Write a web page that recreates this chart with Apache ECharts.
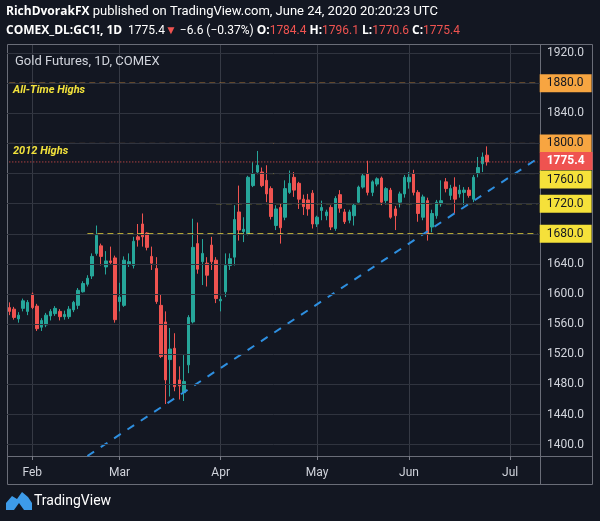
<!DOCTYPE html>
<html>
<head>
<meta charset="utf-8">
<title>Gold Futures, 1D, COMEX</title>
<script src="https://cdn.jsdelivr.net/npm/echarts@6/dist/echarts.min.js"></script>
<style>
  html, body { margin: 0; padding: 0; background: #131722; }
  #gold-chart { width: 600px; height: 521px; }
</style>
</head>
<body>
<div id="gold-chart"></div>
<script>
// trading days shown on the time axis (the last ones are empty space right of the last bar)
const dates = [
  '2020-01-27', '2020-01-28', '2020-01-29', '2020-01-30', '2020-01-31',
  '2020-02-03', '2020-02-04', '2020-02-05', '2020-02-06', '2020-02-07', '2020-02-10', '2020-02-11', '2020-02-12',
  '2020-02-13', '2020-02-14', '2020-02-18', '2020-02-19', '2020-02-20', '2020-02-21', '2020-02-24', '2020-02-25',
  '2020-02-26', '2020-02-27', '2020-02-28',
  '2020-03-02', '2020-03-03', '2020-03-04', '2020-03-05', '2020-03-06', '2020-03-09', '2020-03-10', '2020-03-11',
  '2020-03-12', '2020-03-13', '2020-03-16', '2020-03-17', '2020-03-18', '2020-03-19', '2020-03-20', '2020-03-23',
  '2020-03-24', '2020-03-25', '2020-03-26', '2020-03-27', '2020-03-30', '2020-03-31',
  '2020-04-01', '2020-04-02', '2020-04-03', '2020-04-06', '2020-04-07', '2020-04-08', '2020-04-09', '2020-04-13',
  '2020-04-14', '2020-04-15', '2020-04-16', '2020-04-17', '2020-04-20', '2020-04-21', '2020-04-22', '2020-04-23',
  '2020-04-24', '2020-04-27', '2020-04-28', '2020-04-29', '2020-04-30',
  '2020-05-01', '2020-05-04', '2020-05-05', '2020-05-06', '2020-05-07', '2020-05-08', '2020-05-11', '2020-05-12',
  '2020-05-13', '2020-05-14', '2020-05-15', '2020-05-18', '2020-05-19', '2020-05-20', '2020-05-21', '2020-05-22',
  '2020-05-26', '2020-05-27', '2020-05-28', '2020-05-29',
  '2020-06-01', '2020-06-02', '2020-06-03', '2020-06-04', '2020-06-05', '2020-06-08', '2020-06-09', '2020-06-10',
  '2020-06-11', '2020-06-12', '2020-06-15', '2020-06-16', '2020-06-17', '2020-06-18', '2020-06-19', '2020-06-22',
  '2020-06-23', '2020-06-24', '2020-06-25', '2020-06-26', '2020-06-29', '2020-06-30',
  '2020-07-01', '2020-07-02', '2020-07-06', '2020-07-07', '2020-07-08', '2020-07-09', '2020-07-10'
]
const opens = [
  1582, 1580, 1567, 1581, 1577, 1600, 1584, 1556, 1559, 1571, 1574, 1577, 1570, 1570, 1579, 1585, 1603, 1613, 1624, 1654,
  1664, 1636, 1644, 1648, 1590, 1585, 1640, 1638, 1676, 1693, 1681, 1650, 1634, 1585, 1563, 1513, 1528, 1486, 1469, 1506,
  1563, 1667, 1643, 1641, 1665, 1645, 1591, 1603, 1638, 1649, 1709, 1683, 1680, 1744, 1762, 1762, 1751, 1740, 1691, 1715,
  1702, 1735, 1755, 1747, 1726, 1725, 1734, 1693, 1711, 1704, 1715, 1687, 1732, 1709, 1698, 1704, 1722, 1742, 1760, 1735,
  1746, 1754, 1724, 1738, 1713, 1722, 1733, 1749, 1760, 1735, 1702, 1724, 1689, 1704, 1720, 1749, 1731, 1742, 1733, 1735,
  1738, 1726, 1760, 1773, 1784.4
]
const highs = [
  1589, 1583, 1576, 1594, 1592, 1602, 1587, 1568, 1575, 1580, 1584, 1580, 1578, 1584, 1591, 1608, 1617, 1625, 1654, 1691,
  1667, 1657, 1663, 1651, 1615, 1650, 1654, 1676, 1693, 1707, 1682, 1663, 1649, 1599, 1577, 1555, 1548, 1504, 1519, 1572,
  1700, 1695, 1673, 1649, 1676, 1649, 1597, 1654, 1654, 1718, 1744, 1702, 1757, 1775, 1790, 1768, 1771, 1743, 1718, 1720,
  1751, 1764, 1762, 1749, 1732, 1733, 1738, 1704, 1724, 1712, 1718, 1730, 1738, 1713, 1712, 1720, 1744, 1760, 1777, 1751,
  1755, 1756, 1742, 1741, 1717, 1736, 1758, 1762, 1765, 1738, 1732, 1728, 1712, 1725, 1751, 1754, 1745, 1755, 1745, 1742,
  1742, 1758, 1782, 1788, 1796.1
]
const lows = [
  1572, 1566, 1562, 1577, 1572, 1580, 1551, 1551, 1556, 1565, 1571, 1565, 1566, 1567, 1576, 1580, 1602, 1610, 1620, 1651,
  1638, 1626, 1640, 1562, 1577, 1583, 1636, 1634, 1663, 1663, 1658, 1632, 1587, 1515, 1454, 1464, 1471, 1460, 1458, 1495,
  1561, 1627, 1612, 1610, 1632, 1588, 1577, 1596, 1632, 1638, 1671, 1669, 1678, 1742, 1759, 1742, 1722, 1699, 1685, 1667,
  1698, 1733, 1729, 1713, 1705, 1704, 1687, 1689, 1698, 1698, 1685, 1684, 1708, 1693, 1694, 1691, 1720, 1740, 1731, 1730,
  1743, 1718, 1719, 1700, 1685, 1715, 1728, 1740, 1731, 1696, 1698, 1671, 1682, 1700, 1716, 1735, 1725, 1707, 1728, 1718,
  1728, 1722, 1755, 1762, 1770.6
]
const closes = [
  1577, 1569, 1572, 1591, 1589, 1582, 1554, 1565, 1572, 1577, 1581, 1570, 1573, 1580, 1589, 1605, 1614, 1621, 1650, 1678,
  1650, 1644, 1642, 1566, 1596, 1645, 1643, 1670, 1672, 1676, 1662, 1641, 1590, 1517, 1486, 1527, 1477, 1478, 1484, 1569,
  1662, 1633, 1654, 1625, 1643, 1594, 1593, 1638, 1647, 1699, 1685, 1686, 1755, 1760, 1771, 1744, 1733, 1703, 1713, 1688,
  1740, 1747, 1738, 1726, 1716, 1713, 1693, 1702, 1715, 1709, 1689, 1727, 1714, 1696, 1709, 1718, 1742, 1757, 1735, 1749,
  1753, 1722, 1740, 1702, 1704, 1733, 1755, 1755, 1735, 1707, 1729, 1680, 1707, 1722, 1724, 1740, 1740, 1726, 1738, 1738,
  1731, 1755, 1768, 1782, 1775.4
]
const priceTicks = [1400, 1440, 1480, 1520, 1560, 1600, 1640, 1680, 1720, 1760, 1800, 1840, 1880, 1920]
const resistanceLevels = [1880, 1800]
const resistanceNotes = ['All-Time Highs', '2012 Highs']
const supportLevels = [1760, 1720, 1680]
const supportStarts = ['2020-04-07', '2020-03-31', '2020-02-20']
const trendLine = [['2020-02-20', 1385], ['2020-07-10', 1780]]
const monthNames = ['Jan', 'Feb', 'Mar', 'Apr', 'May', 'Jun', 'Jul']

const font = 'Roboto'
const boldFont = 'Open Sans'
const firstDate = dates[0]
const lastDate = dates[dates.length - 1]
const boxed = resistanceLevels.concat(supportLevels)

function isMonthStart (i) {
  return i > 0 && dates[i].slice(5, 7) !== dates[i - 1].slice(5, 7)
}
function fmt (v) {
  return v.toFixed(1).replace('-', '\u2212')
}

const candles = closes.map((c, i) => [opens[i], c, lows[i], highs[i]])
const n = closes.length
const last = closes[n - 1]
const change = last - closes[n - 2]
const pct = change / closes[n - 2] * 100

// a horizontal level drawn as a two point line with its price box at the right end
function levelSeries (name, from, v, color, dash, boxBg, boxColor) {
  return {
    name: name,
    type: 'line',
    data: [[from, v], [lastDate, v]],
    symbol: 'none',
    silent: true,
    z: 3,
    lineStyle: { color: color, type: dash, width: 1 },
    endLabel: {
      show: true,
      formatter: fmt(v),
      distance: 2,
      backgroundColor: boxBg,
      color: boxColor,
      fontFamily: font,
      fontSize: 12,
      lineHeight: 12,
      padding: [3, 8, 3, 7]
    }
  }
}

const series = [
  {
    name: 'grid',
    type: 'line',
    data: [],
    z: 1,
    silent: true,
    markLine: {
      symbol: ['none', 'none'],
      silent: true,
      animation: false,
      lineStyle: { color: '#30343f', type: 'solid', width: 1 },
      label: {
        show: true,
        position: 'end',
        distance: 7,
        formatter: p => boxed.indexOf(p.value) < 0 ? fmt(p.value) : '',
        color: '#d1d4dc',
        fontFamily: font,
        fontSize: 12
      },
      data: priceTicks.map(v => ({ yAxis: v }))
    }
  },
  {
    name: 'GC1!',
    type: 'candlestick',
    data: candles,
    barWidth: 3,
    z: 2,
    itemStyle: {
      color: '#26a69a',
      color0: '#ef5350',
      borderColor: '#26a69a',
      borderColor0: '#ef5350',
      borderWidth: 1
    }
  }
]
resistanceLevels.forEach(v => {
  series.push(levelSeries('resistance ' + v, firstDate, v, '#f7a541', [6, 4], '#f7a541', '#131722'))
})
supportLevels.forEach((v, k) => {
  const s = levelSeries('support ' + v, supportStarts[k], v, '#f5e13a', [6, 4], '#f5e13a', '#131722')
  // the box right under the last price is pushed down so the two do not overlap
  if (k === 0) s.endLabel.offset = [0, 6]
  series.push(s)
})
const lastLine = levelSeries('last', firstDate, last, '#ef5350', [1, 2], '#ef5350', '#ffffff')
lastLine.endLabel.fontWeight = 'bold'
lastLine.endLabel.offset = [0, -1]
lastLine.z = 4
series.push(lastLine)
series.push({
  name: 'trend',
  type: 'line',
  data: trendLine,
  symbol: 'none',
  silent: true,
  z: 4,
  lineStyle: { color: '#2e8fe0', type: [8, 8], width: 2 }
})

const myChart = echarts.init(document.getElementById('gold-chart'))
const option = {
  backgroundColor: '#131722',
  animation: false,
  title: [
    {
      left: 6,
      top: 5,
      padding: 0,
      text: '{b|RichDvorakFX} published on TradingView.com, June 24, 2020 20:20:23 UTC',
      textStyle: {
        color: '#ffffff',
        fontFamily: font,
        fontSize: 13,
        fontWeight: 'normal',
        rich: { b: { color: '#ffffff', fontFamily: boldFont, fontSize: 12, fontWeight: 'bold' } }
      }
    },
    {
      left: 6,
      top: 25,
      padding: 0,
      text: '{b|COMEX_DL:GC1!, 1D}  ' + fmt(last) + '{r|\u25BC} ' + fmt(change) + ' (' + pct.toFixed(2).replace('-', '\u2212') + '%) ' +
        '{b|O:}{r|' + fmt(opens[n - 1]) + '} {b|H:}{r|' + fmt(highs[n - 1]) + '} {b|L:}{r|' + fmt(lows[n - 1]) +
        '} {b|C:}{r|' + fmt(last) + '}',
      textStyle: {
        color: '#ffffff',
        fontFamily: font,
        fontSize: 12,
        fontWeight: 'normal',
        rich: {
          b: { color: '#ffffff', fontFamily: boldFont, fontSize: 12, fontWeight: 'bold' },
          r: { color: '#ef5350', fontFamily: font, fontSize: 12 }
        }
      }
    },
    {
      left: 15,
      top: 55,
      padding: 0,
      text: 'Gold Futures, 1D, COMEX',
      textStyle: { color: '#d1d4dc', fontFamily: font, fontSize: 13, fontWeight: 'normal' }
    }
  ],
  grid: {
    left: 7,
    right: 60,
    top: 44,
    bottom: 65
  },
  xAxis: {
    type: 'category',
    data: dates,
    boundaryGap: true,
    axisLine: { show: false },
    axisTick: {
      show: true,
      interval: isMonthStart,
      alignWithLabel: true,
      length: 4,
      lineStyle: { color: '#787b86' }
    },
    axisLabel: {
      interval: isMonthStart,
      formatter: v => monthNames[+v.slice(5, 7) - 1],
      color: '#d1d4dc',
      fontFamily: font,
      fontSize: 12,
      margin: 11
    },
    splitLine: {
      show: true,
      interval: isMonthStart,
      alignWithLabel: true,
      lineStyle: { color: '#363a45' }
    }
  },
  yAxis: {
    type: 'value',
    position: 'right',
    min: 1385,
    max: 1932,
    axisLine: { show: false },
    axisTick: { show: false },
    axisLabel: { show: false },
    splitLine: { show: false }
  },
  series: series
}
myChart.setOption(option)

// frame, level notes and footer logo
const frame = '#6a6d78'
const graphics = [
  { type: 'rect', shape: { x: 7.5, y: 44.5, width: 585, height: 440 }, style: { fill: 'none', stroke: frame, lineWidth: 1 }, silent: true },
  { type: 'line', shape: { x1: 7, y1: 456.5, x2: 593, y2: 456.5 }, style: { stroke: frame, lineWidth: 1 }, silent: true },
  { type: 'line', shape: { x1: 540.5, y1: 44, x2: 540.5, y2: 485 }, style: { stroke: frame, lineWidth: 1 }, silent: true },
  {
    type: 'polygon',
    shape: { points: [[6, 510], [6, 503], [12, 496], [17, 499], [22, 492], [28, 497], [32, 503], [32, 510]] },
    style: { fill: '#3d9be9' },
    silent: true
  },
  { type: 'polygon', shape: { points: [[14, 510], [19, 503], [24, 510]] }, style: { fill: '#131722' }, silent: true },
  { type: 'text', left: 34, top: 494, style: { text: 'TradingView', fill: '#ffffff', font: '14px ' + font }, silent: true }
]
resistanceLevels.forEach((v, k) => {
  const p = myChart.convertToPixel({ xAxisIndex: 0, yAxisIndex: 0 }, [firstDate, v])
  graphics.push({
    type: 'text',
    left: 13,
    top: p[1] + 2,
    z: 10,
    silent: true,
    style: { text: resistanceNotes[k], fill: '#f2e23c', font: 'italic bold 11px ' + font }
  })
})
myChart.setOption({ graphic: graphics })
</script>
</body>
</html>
